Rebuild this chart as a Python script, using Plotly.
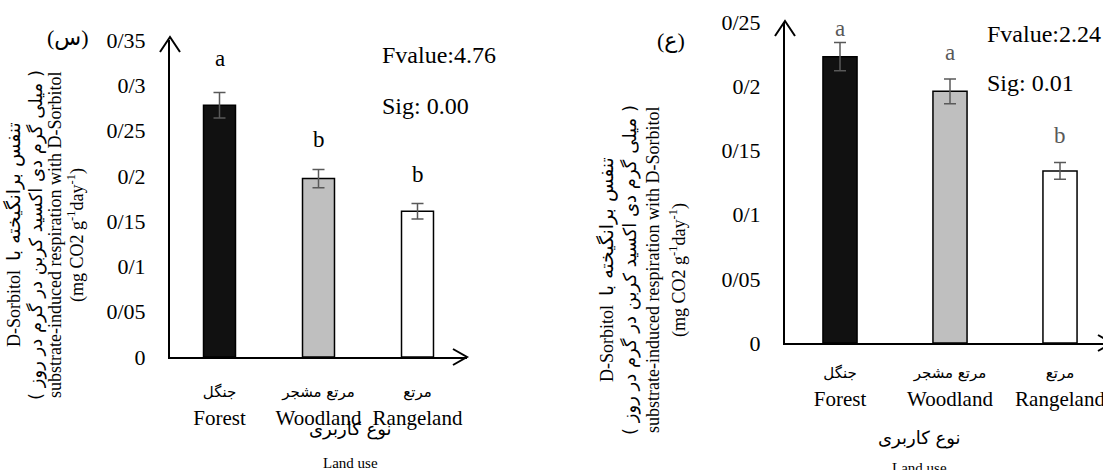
import plotly.graph_objects as go

# ---------------- data ----------------
categories = ["Forest", "Woodland", "Rangeland"]
categories_fa = ["جنگل", "مرتع مشجر", "مرتع"]

left_means = [0.278, 0.197, 0.161]
left_err = [0.014, 0.010, 0.0085]
left_letters = ["a", "b", "b"]
left_stats = ["Fvalue:4.76", "Sig: 0.00"]
left_tickvals = [0, 0.05, 0.1, 0.15, 0.2, 0.25, 0.3, 0.35]
left_ticktext = ["0", "0/05", "0/1", "0/15", "0/2", "0/25", "0/3", "0/35"]

right_means = [0.223, 0.196, 0.134]
right_err = [0.011, 0.0097, 0.0065]
right_letters = ["a", "a", "b"]
right_stats = ["Fvalue:2.24", "Sig: 0.01"]
right_tickvals = [0, 0.05, 0.1, 0.15, 0.2, 0.25]
right_ticktext = ["0", "0/05", "0/1", "0/15", "0/2", "0/25"]

bar_colors = ["#111111", "#bfbfbf", "#ffffff"]

ytitle_lines = [
    "D-Sorbitol  <span style='font-family:DejaVu Sans;font-size:19px'>تنفس برانگیخته با</span>",
    "\u202b( میلی گرم دی اکسید کربن در گرم در روز )\u202c",
    "substrate-induced respiration with D-Sorbitol",
    "(mg CO2 g<sup>-1</sup>day<sup>-1</sup>)",
]
xtitle_fa = "نوع کاربری"
xtitle_en = "Land use"
panel_labels = ["\u202b(س)\u202c", "\u202b(ع)\u202c"]

# ---------------- layout helpers ----------------
W, H = 1103, 470
SERIF = "Liberation Serif, Times New Roman, serif"
FA = "DejaVu Sans, sans-serif"


def PX(x):
    return x / W


def PY(y):
    return 1 - y / H


tick_text_x = [
    f"<span style='font-family:DejaVu Sans;font-size:15px'>{fa}</span><br>{en}"
    for fa, en in zip(categories_fa, categories)
]

fig = go.Figure()

panels = [
    dict(means=left_means, err=left_err, letters=left_letters, stats=left_stats,
         xa="x", ya="y", width=0.323,
         letter_color="black", letter_shift=[20, 16, 14]),
    dict(means=right_means, err=right_err, letters=right_letters, stats=right_stats,
         xa="x2", ya="y2", width=0.31,
         letter_color="#595959", letter_shift=[0, 12, 13]),
]

for p in panels:
    fig.add_trace(go.Bar(
        x=categories, y=p["means"], xaxis=p["xa"], yaxis=p["ya"],
        width=p["width"],
        marker=dict(color=bar_colors, line=dict(color="black", width=1.5)),
        error_y=dict(type="data", array=p["err"], color="#595959",
                     thickness=1.5, width=6),
        showlegend=False, hoverinfo="skip",
    ))

annotations = []
for p in panels:
    for c, m, e, l, s in zip(categories, p["means"], p["err"], p["letters"], p["letter_shift"]):
        annotations.append(dict(
            x=c, y=m + e, xref=p["xa"], yref=p["ya"], text=l, showarrow=False,
            xanchor="center", yanchor="bottom", yshift=s,
            font=dict(family=SERIF, size=23, color=p["letter_color"])))


def label(text, x, y, family, size, xanchor="center", angle=0):
    return dict(x=PX(x), y=PY(y), xref="paper", yref="paper", text=text,
                showarrow=False, xanchor=xanchor, yanchor="middle",
                textangle=angle, font=dict(family=family, size=size, color="black"))


# stats texts
for txt, x, y in [(left_stats[0], 380, 55), (left_stats[1], 380, 106),
                  (right_stats[0], 985, 34), (right_stats[1], 985, 83)]:
    annotations.append(label(txt, x, y, SERIF, 24, xanchor="left"))

# panel labels
annotations.append(label(panel_labels[0], 68, 38, "Liberation Serif, DejaVu Sans", 22))
annotations.append(label(panel_labels[1], 671, 40, "Liberation Serif, DejaVu Sans", 22))

# y-axis titles (rotated, one annotation per line)
title_sizes = [18, 18, 18, 18]
title_fonts = [SERIF, FA, SERIF, SERIF]
for xs, yc in [([13, 36, 55, 76], 235), ([606, 630, 653, 678], 270)]:
    for line, x, fs, ff in zip(ytitle_lines, xs, title_sizes, title_fonts):
        annotations.append(label(line, x, yc, ff, fs, angle=-90))

# x-axis titles
for xc, yfa, yen in [(350, 429, 463), (919, 438, 468)]:
    annotations.append(label(xtitle_fa, xc, yfa, FA, 18))
    annotations.append(label(xtitle_en, xc, yen, SERIF, 15))


def chevron(tip, a1, a2):
    return dict(type="path", xref="paper", yref="paper",
                path=f"M {PX(a1[0])},{PY(a1[1])} L {PX(tip[0])},{PY(tip[1])} L {PX(a2[0])},{PY(a2[1])}",
                line=dict(color="black", width=2))


shapes = [
    chevron((170, 37), (160, 52), (180, 52)),
    chevron((467, 357), (453, 349), (453, 365)),
    chevron((785, 21), (775, 36), (795, 36)),
    chevron((1112, 343), (1098, 335), (1098, 351)),
]

axis_common_x = dict(type="category", showline=True, linecolor="black", linewidth=2,
                     ticks="", showgrid=False, zeroline=False, automargin=False,
                     tickvals=categories, ticktext=tick_text_x,
                     tickfont=dict(family=SERIF, size=21, color="black"))
axis_common_y = dict(showline=True, linecolor="black", linewidth=2, ticks="",
                     showgrid=False, zeroline=False, automargin=False,
                     tickfont=dict(family=SERIF, size=22, color="black"))

fig.update_layout(
    template="none",
    width=W, height=H,
    margin=dict(l=0, r=0, t=0, b=0, pad=0, autoexpand=False),
    paper_bgcolor="white", plot_bgcolor="white",
    xaxis=dict(domain=[PX(170), PX(467)], range=[-0.5, 2.5], anchor="y",
               ticklabelstandoff=13, **axis_common_x),
    yaxis=dict(domain=[PY(357), PY(40)], range=[0, 0.35], anchor="x",
               tickvals=left_tickvals, ticktext=left_ticktext,
               ticklabelstandoff=18, **axis_common_y),
    xaxis2=dict(domain=[PX(785), 1.0], range=[-0.5, -0.5 + 318 / 110], anchor="y2",
                ticklabelstandoff=8, **axis_common_x),
    yaxis2=dict(domain=[PY(343), PY(22)], range=[0, 0.25], anchor="x2",
                tickvals=right_tickvals, ticktext=right_ticktext,
                ticklabelstandoff=18, **axis_common_y),
    annotations=annotations,
    shapes=shapes,
)

fig.write_html("out.html", config={"displayModeBar": False},
               post_script="document.body.style.margin='0px';document.body.style.overflow='hidden';")
